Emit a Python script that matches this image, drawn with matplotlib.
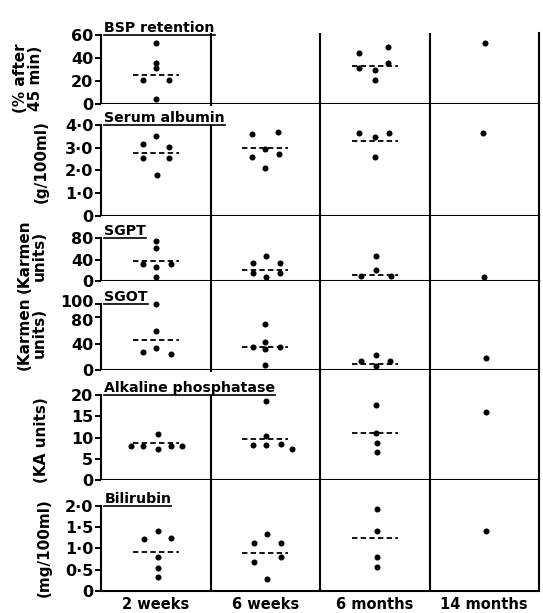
import matplotlib
matplotlib.use("Agg")
import matplotlib.pyplot as plt
from matplotlib.lines import Line2D
from matplotlib.patches import Rectangle
from matplotlib.transforms import IdentityTransform, offset_copy, ScaledTranslation

plt.rcParams['font.family'] = ['DejaVu Sans']

categories = ["2 weeks", "6 weeks", "6 months", "14 months"]

# ---- data (per column: 2 weeks, 6 weeks, 6 months, 14 months) ----
bsp_values = [[52.8, 35.4, 31.0, 20.9, 20.9, 4.3], [],
              [44.6, 49.8, 31.6, 29.6, 35.4, 20.9], [52.8]]
bsp_jitter = [[0, 0, 0, -0.12, 0.12, 0], [],
              [-0.14, 0.12, -0.14, 0, 0.12, 0], [0.01]]
bsp_means = [25.2, None, 33.3, None]

alb_values = [[3.15, 3.52, 3.05, 2.54, 2.56, 1.80],
              [3.60, 3.68, 2.58, 2.95, 2.73, 2.10],
              [3.64, 3.49, 3.64, 2.61], [3.64]]
alb_jitter = [[-0.12, 0, 0.12, -0.12, 0.12, 0.01],
              [-0.12, 0.12, -0.12, 0, 0.13, 0],
              [-0.14, 0, 0.13, 0], [-0.01]]
alb_means = [2.78, 2.98, 3.30, None]

sgpt_values = [[75, 60.8, 31, 26.6, 31, 6.9],
               [33, 46.5, 15.5, 6.9, 34, 15.5],
               [9.3, 46.5, 20.5, 9.3], [6.9]]
sgpt_jitter = [[0, 0, -0.12, 0, 0.14, 0],
               [-0.11, 0.01, -0.11, 0.01, 0.135, 0.135],
               [-0.13, 0.01, 0.01, 0.145], [0.0]]
sgpt_means = [37.8, 20.5, 11.0, None]

sgot_values = [[100, 59.5, 27.7, 32.9, 24.2],
               [69.2, 42.9, 35.3, 31.8, 35.3, 7.6],
               [13.6, 22.7, 6.1, 13.6], [18.6]]
sgot_jitter = [[0, 0, -0.115, 0, 0.135],
               [0, 0, -0.11, 0, 0.135, 0],
               [-0.125, 0.01, 0.01, 0.14], [0.013]]
sgot_means = [45.5, 35.3, 9.1, None]

alk_values = [[8.07, 8.07, 10.75, 7.3, 8.07, 8.07],
              [8.2, 18.7, 10.4, 8.3, 8.5, 7.3],
              [17.6, 11.0, 8.8, 6.7], [16.1]]
alk_jitter = [[-0.226, -0.114, 0.018, 0.018, 0.139, 0.237],
              [-0.11, 0.007, 0.007, 0.007, 0.14, 0.247],
              [0.01, 0.01, 0.018, 0.018], [0.013]]
alk_means = [8.8, 9.6, 11.0, None]

bili_values = [[1.22, 1.41, 1.24, 0.79, 0.53, 0.32],
               [1.12, 1.34, 0.69, 0.28, 1.12, 0.79],
               [1.93, 1.40, 0.81, 0.56], [1.40]]
bili_jitter = [[-0.105, 0.023, 0.139, 0.023, 0.023, 0.023],
               [-0.103, 0.02, -0.103, 0.02, 0.14, 0.14],
               [0.018, 0.018, 0.018, 0.018], [0.016]]
bili_means = [0.92, 0.89, 1.24, None]

titles = ["BSP retention", "Serum albumin", "SGPT", "SGOT",
          "Alkaline phosphatase", "Bilirubin"]
ylabels = ["(% after\n45 min)", "(g/100ml)", "(Karmen\nunits)",
           "(Karmen\nunits)", "(KA units)", "(mg/100ml)"]
yticks = [[0, 20, 40, 60], [0, 1, 2, 3, 4], [0, 40, 80], [0, 40, 80, 100],
          [0, 5, 10, 15, 20], [0, 0.5, 1.0, 1.5, 2.0]]
yticklabels = [["0", "20", "40", "60"], ["0", "1·0", "2·0", "3·0", "4·0"],
               ["0", "40", "80"], ["0", "40", "80", "100"],
               ["0", "5", "10", "15", "20"], ["0", "0·5", "1·0", "1·5", "2·0"]]
ymax = [61.7, 4.92, 121, 134.8, 25.9, 2.61]

values = [bsp_values, alb_values, sgpt_values, sgot_values, alk_values, bili_values]
jitters = [bsp_jitter, alb_jitter, sgpt_jitter, sgot_jitter, alk_jitter, bili_jitter]
means = [bsp_means, alb_means, sgpt_means, sgot_means, alk_means, bili_means]

# ---- layout (pixels) ----
W, H = 543, 613
fig = plt.figure(figsize=(W / 100, H / 100), dpi=100)
rows_px = [(33, 104), (104, 216), (216, 281), (281, 370), (370, 480), (480, 591)]
label_x = [28, 41, 32, 32, 42, 44]
label_y = [78, 162, 256, 333, 440, 548]
left_px, right_px = 101, 539

axes = []
for i, (top, bot) in enumerate(rows_px):
    ax = fig.add_axes([left_px / W, 1 - bot / H, (right_px - left_px) / W, (bot - top) / H])
    axes.append(ax)
    ax.set_xlim(0, 4)
    ax.set_ylim(0, ymax[i])
    for s in ['left', 'right', 'bottom']:
        ax.spines[s].set_linewidth(1.5)
    ax.spines['top'].set_visible(False)
    ax.spines['left'].set_bounds(0, yticks[i][-1])
    ax.set_yticks(yticks[i])
    ax.set_yticklabels(yticklabels[i], fontsize=11.5, fontweight='bold')
    ax.tick_params(axis='y', length=4, width=1.4, pad=1.5)
    for xv in [1, 2, 3]:
        ax.axvline(xv, color='black', lw=1.5, zorder=1)
    for c in range(4):
        vals = values[i][c]
        if vals:
            xs = [c + 0.5 + j for j in jitters[i][c]]
            ax.scatter(xs, vals, s=19, color='black', linewidths=0, zorder=4)
        m = means[i][c]
        if m is not None:
            ax.plot([c + 0.5 - 0.21, c + 0.5 + 0.21], [m, m], color='black',
                    lw=1.3, ls=(0, (3, 1.8)), zorder=3)
    if i == len(rows_px) - 1:
        ax.set_xticks([0.5, 1.5, 2.5, 3.5])
        ax.set_xticklabels(categories, fontsize=10.5, fontweight='bold')
        ax.tick_params(axis='x', length=0, pad=4)
    else:
        ax.set_xticks([])
    fig.text(label_x[i] / W, 1 - label_y[i] / H, ylabels[i], rotation=90,
             ha='center', va='center', multialignment='center',
             fontsize=11, fontweight='bold', linespacing=1.0)

# keep the crowded 80 / 100 labels of the SGOT panel apart
sgot_ax = axes[3]
for lab, dy in zip(sgot_ax.get_yticklabels(), [0, 0, -3, 3]):
    if dy:
        lab.set_transform(lab.get_transform() + ScaledTranslation(0, dy / 100, fig.dpi_scale_trans))

# titles with underline
title_artists = []
for i, ax in enumerate(axes):
    tr = offset_copy(ax.transData, fig=fig, x=0, y=3, units='dots')
    t = ax.text(0.03, yticks[i][-1], titles[i], transform=tr, ha='left',
                va='baseline', fontsize=10.2, fontweight='bold', zorder=6,
                clip_on=False)
    title_artists.append(t)

fig.canvas.draw()
renderer = fig.canvas.get_renderer()
for i, ax in enumerate(axes):
    bb = title_artists[i].get_window_extent(renderer)
    y_line = ax.transData.transform((0, yticks[i][-1]))[1]
    ax_top = ax.get_window_extent(renderer).y1
    if i > 0:
        ax.add_patch(Rectangle((bb.x0 - 2, y_line), bb.width + 4, ax_top - 2 - y_line,
                               transform=IdentityTransform(), facecolor='white',
                               edgecolor='none', zorder=5, clip_on=False))
    ax.add_line(Line2D([bb.x0, bb.x1], [y_line, y_line], transform=IdentityTransform(),
                       color='black', lw=1.2, zorder=6, clip_on=False))

fig.savefig("out.png", dpi=100)
